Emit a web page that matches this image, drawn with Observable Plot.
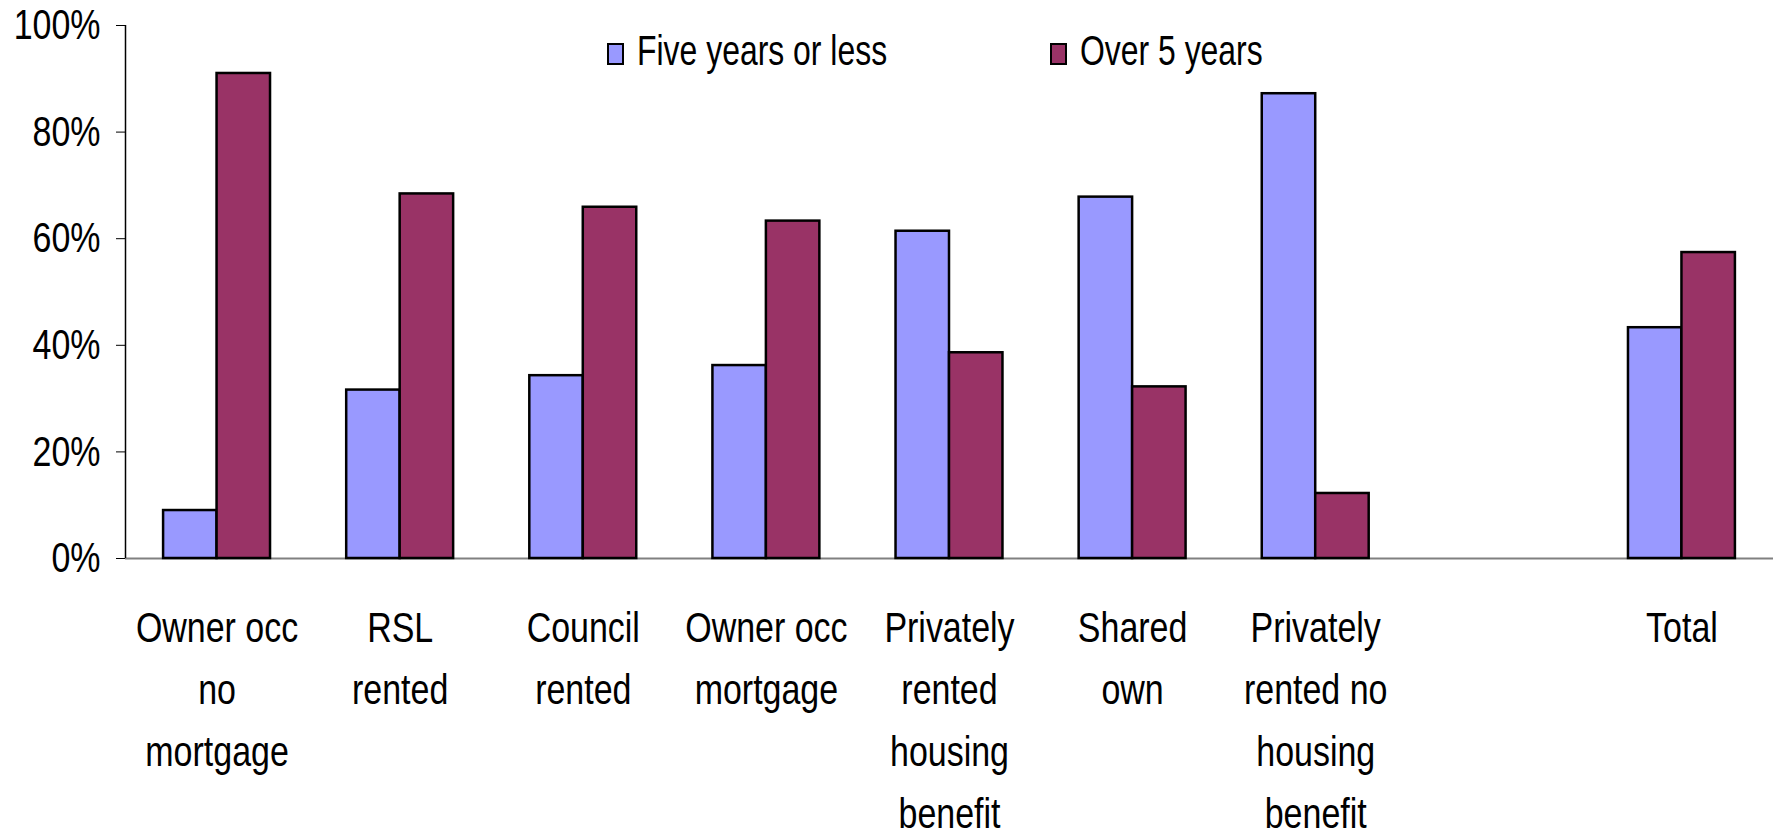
<!DOCTYPE html>
<html>
<head>
<meta charset="utf-8">
<script src="https://cdn.jsdelivr.net/npm/d3@7"></script>
<script src="https://cdn.jsdelivr.net/npm/@observablehq/plot@0.6"></script>
<style>
  body { margin: 0; background: #fff; }
  #chart { position: relative; width: 1782px; height: 837px; font-family: "Liberation Sans", Arial, sans-serif; color: #000; overflow: hidden; }
  .swatch { position: absolute; top: 43px; width: 13px; height: 18px; border: 2.5px solid #000; }
  .legend-text { position: absolute; top: 30px; font-size: 42px; line-height: 42px; white-space: nowrap; transform: scaleX(0.76); transform-origin: 0 50%; }
</style>
</head>
<body>
<div id="chart"></div>
<script>
// Categories (index 7 is an empty gap slot in the original chart)
const categories = [
  "Owner occ\nno\nmortgage",
  "RSL\nrented",
  "Council\nrented",
  "Owner occ\nmortgage",
  "Privately\nrented\nhousing\nbenefit",
  "Shared\nown",
  "Privately\nrented no\nhousing\nbenefit",
  "",
  "Total"
];
const seriesNames = ["Five years or less", "Over 5 years"];
const seriesColors = ["#9999FF", "#993366"];
const fiveYearsOrLess = [0.09, 0.316, 0.343, 0.362, 0.614, 0.678, 0.872, null, 0.433];
const over5Years      = [0.91, 0.684, 0.659, 0.633, 0.386, 0.322, 0.122, null, 0.574];
const yTicks = [0, 0.2, 0.4, 0.6, 0.8, 1.0];

const rows = categories.map((c, i) => ({i, c, a: fiveYearsOrLess[i], b: over5Years[i]}))
  .filter(d => d.a != null);

const barW = 0.292;     // bar width as a fraction of the category step
const fontSize = 43;
const squeeze = 0.79;   // narrow typeface look

const plot = Plot.plot({
  width: 1782,
  height: 837,
  marginLeft: 125,
  marginRight: 9,
  marginTop: 25,
  marginBottom: 279,
  style: { fontFamily: '"Liberation Sans", Arial, sans-serif', fontSize: fontSize + "px", color: "#000", background: "#fff" },
  x: { type: "linear", domain: [-0.5, categories.length - 0.5], axis: null },
  y: { domain: [0, 1], axis: null },
  marks: [
    Plot.ruleY([0], { stroke: "#808080", strokeWidth: 2 }),
    Plot.ruleX([-0.5], { y1: 0, y2: 1, stroke: "#000", strokeWidth: 1.5 }),
    Plot.rect(rows, { x1: d => d.i - barW, x2: d => d.i, y1: 0, y2: "a", fill: seriesColors[0], stroke: "#000", strokeWidth: 2.5 }),
    Plot.rect(rows, { x1: d => d.i, x2: d => d.i + barW, y1: 0, y2: "b", fill: seriesColors[1], stroke: "#000", strokeWidth: 2.5 }),
    Plot.axisY({ ticks: yTicks, tickFormat: d3.format(".0%"), tickSize: 9, tickPadding: 16, fontSize: fontSize, stroke: "#000", fill: "#000" }),
    Plot.axisX({ ticks: rows.map(d => d.i), tickFormat: i => categories[i], tickSize: 0, tickPadding: 39, fontSize: fontSize, lineHeight: 1.445, fill: "#000" })
  ]
});

// Horizontally condense every text around its anchor point
plot.querySelectorAll("text").forEach(t => {
  const tr = t.getAttribute("transform") || "";
  t.setAttribute("transform", `${tr} scale(${squeeze},1)`);
});

const chart = document.getElementById("chart");
chart.appendChild(plot);

// Legend (positioned over the plot area, as in the original)
const legendLeft = [607, 1050];
seriesNames.forEach((name, k) => {
  const sw = document.createElement("div");
  sw.className = "swatch";
  sw.style.left = legendLeft[k] + "px";
  sw.style.background = seriesColors[k];
  const tx = document.createElement("div");
  tx.className = "legend-text";
  tx.style.left = (legendLeft[k] + 30) + "px";
  tx.textContent = name;
  chart.appendChild(sw);
  chart.appendChild(tx);
});
</script>
</body>
</html>
